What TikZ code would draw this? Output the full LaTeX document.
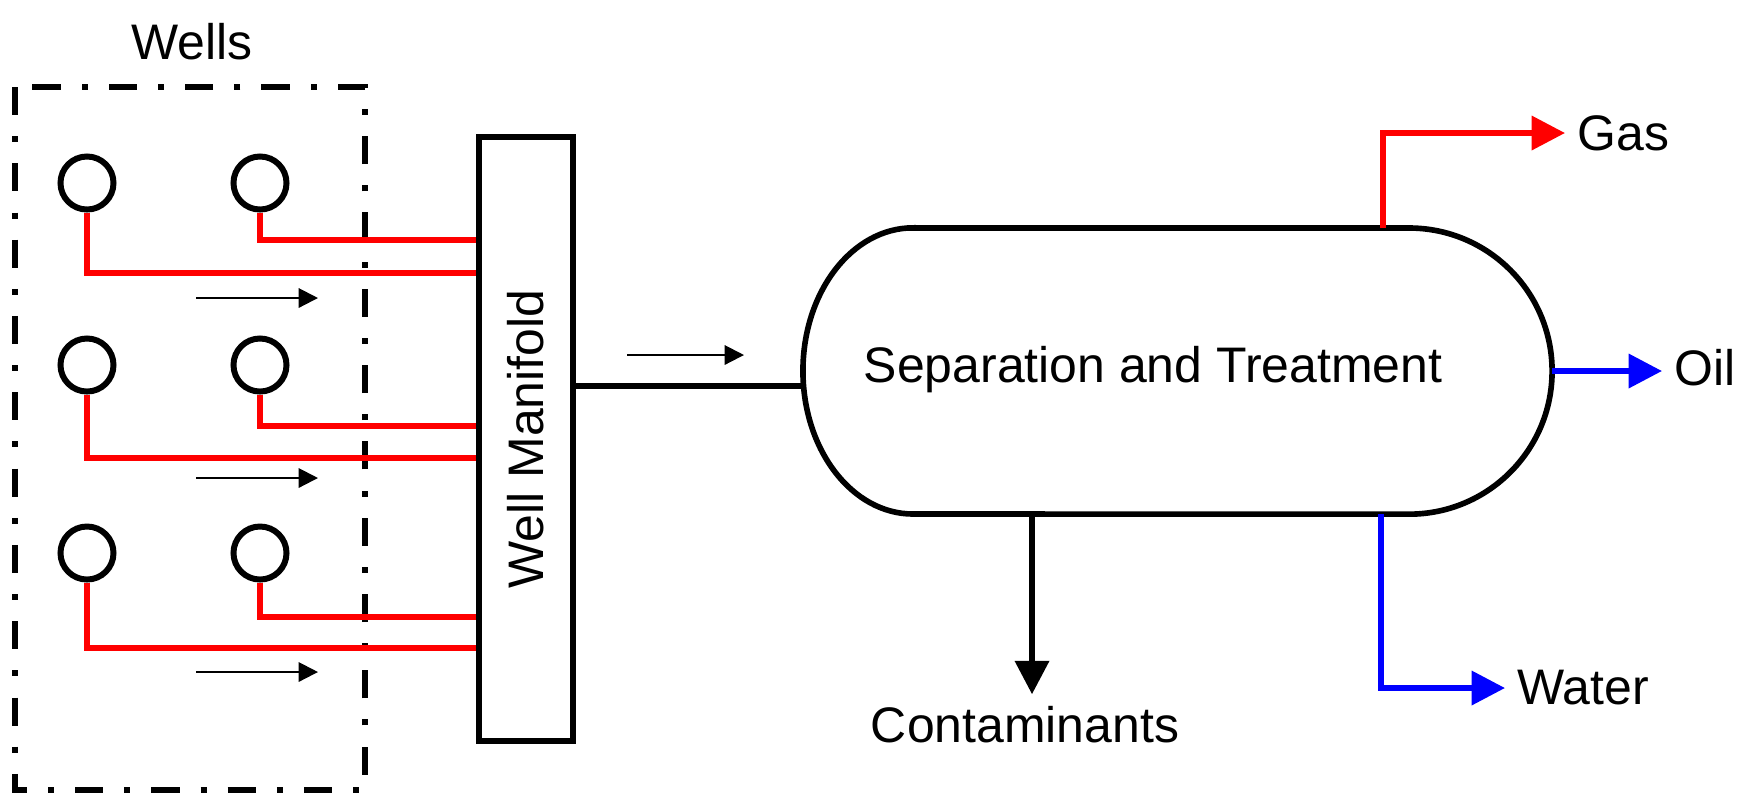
\documentclass[tikz,border=0pt]{standalone}
\usepackage{fontspec}
\setmainfont{Liberation Sans}
\usetikzlibrary{arrows.meta}
\tikzset{
  well/.style={circle, draw, line width=1.7pt, minimum size=0.53cm, inner sep=0pt},
  pipe/.style={red, line width=1.7pt},
  flow/.style={-{Triangle[length=5.5pt,width=5.5pt]}, line width=0.6pt},
  stream/.style={-{Triangle[length=9.5pt,width=9.5pt]}, line width=1.6pt},
}

\begin{document}
\begin{tikzpicture}[x=0.01cm, y=-0.01cm, font=\fontsize{14.2}{17}\selectfont]
  \useasboundingbox (0,0) rectangle (1749,796);
  % wells
  \node (wells) at (192,42) {Wells};
  \draw[line width=1.8pt, dash pattern=on 8pt off 6pt on 1.7pt off 6pt] (15,87) rectangle (365,790);
  \node[draw, line width=1.7pt, minimum width=0.93cm, minimum height=6.03cm] (man) at (526,439) {};
  \node[rotate=90] at (man.center) {Well Manifold};
  \foreach \r/\y/\ya/\yb in {1/183/273/240, 2/365/458/426, 3/553/648/617} {
    \node[well] (w\r a) at (87,\y) {};
    \node[well] (w\r b) at (260,\y) {};
    \coordinate (ya) at (0,\ya);
    \coordinate (yb) at (0,\yb);
    \draw[pipe] (w\r a.south) |- (man.west |- ya);
    \draw[pipe] (w\r b.south) |- (man.west |- yb);
  }
  \foreach \y in {298,478,672}
    \draw[flow] (196,\y) -- (318,\y);

  % separator
  \draw[line width=1.6pt] (913,228) -- (1409,228) arc[start angle=90, end angle=-90, radius=1.43cm]
    -- (913,514) arc[start angle=270, end angle=90, x radius=1.1cm, y radius=1.43cm] -- cycle;
  \node (sep) at (1153,370) {Separation and Treatment};
  \coordinate (vin) at (803,386);
  \draw[line width=1.5pt] (man.east |- vin) -- (vin);
  \draw[flow] (627,355) -- (744,355);

  % products
  \coordinate (gtop) at (1383,228);
  \coordinate (vright) at (1552,371);
  \coordinate (wbot) at (1381,514);
  \coordinate (cbot) at (1032,514);
  \node[anchor=west] (gas) at (1565,133) {Gas};
  \node[anchor=west] (oil) at (1662,368) {Oil};
  \node[anchor=west] (water) at (1505,688) {Water};
  \node (cont) at (1025,725) {Contaminants};
  \draw[stream, red] (gtop) |- (gas.west);
  \draw[stream, blue] (vright) -- (vright -| oil.west);
  \draw[stream, blue] (wbot) |- (water.west);
  \draw[stream] (cbot) -- (cbot |- cont.north);
\end{tikzpicture}
\end{document}
